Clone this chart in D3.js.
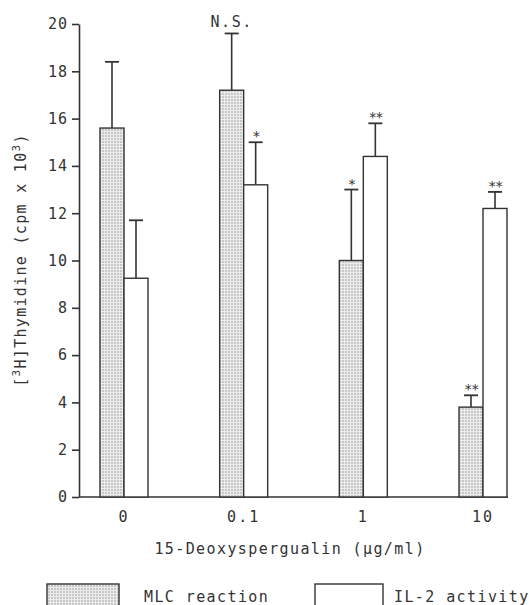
<!DOCTYPE html>
<html>
<head>
<meta charset="utf-8">
<script src="https://cdn.jsdelivr.net/npm/d3@7"></script>
<style>
  body { margin: 0; background: #fff; }
  svg { display: block; }
  text { fill: #333; }
</style>
</head>
<body>
<svg id="chart"></svg>
<script>
// doses of 15-Deoxyspergualin (ug/ml)
const doses = ['0', '0.1', '1', '10']
const mlcValues = [15.6, 17.2, 10.0, 3.8]
const mlcErrTop = [18.4, 19.6, 13.0, 4.3]
const il2Values = [9.25, 13.2, 14.4, 12.2]
const il2ErrTop = [11.7, 15.0, 15.8, 12.9]
const mlcMarks = ['', 'N.S.', '*', '**']
const il2Marks = ['', '*', '**', '**']
const yTicks = [0, 2, 4, 6, 8, 10, 12, 14, 16, 18, 20]

const W = 529, H = 605
const mono = '"DejaVu Sans Mono", monospace'
const ink = '#333'

const svg = d3.select('#chart').attr('width', W).attr('height', H)

// dotted fill for the MLC bars
const defs = svg.append('defs')
const pat = defs.append('pattern')
    .attr('id', 'dots')
    .attr('width', 3).attr('height', 3)
    .attr('patternUnits', 'userSpaceOnUse')
pat.append('rect').attr('width', 3).attr('height', 3).attr('fill', '#ececec')
pat.append('circle').attr('cx', 1).attr('cy', 1).attr('r', 0.7).attr('fill', '#888')

const y = d3.scaleLinear().domain([0, 20]).range([497, 24])
const x = d3.scalePoint().domain(doses).range([124, 483])
const bw = 24

// y axis
const yAxis = svg.append('g')
    .attr('transform', 'translate(79,0)')
    .call(d3.axisLeft(y).tickValues(yTicks).tickSize(7).tickPadding(4).tickSizeOuter(0))
yAxis.select('.domain').attr('stroke', ink).attr('stroke-width', 1.6)
yAxis.selectAll('.tick line').attr('stroke', ink).attr('stroke-width', 1.6)
yAxis.selectAll('.tick text')
    .attr('font-family', mono).attr('font-size', 15).attr('letter-spacing', 1)
    .style('fill', ink)

// x axis (line runs past the last group)
svg.append('line')
    .attr('x1', 79).attr('x2', 508)
    .attr('y1', y(0)).attr('y2', y(0))
    .attr('stroke', ink).attr('stroke-width', 1.6)

svg.append('g').selectAll('text')
    .data(doses)
    .join('text')
        .attr('x', d => x(d))
        .attr('y', 522)
        .attr('text-anchor', 'middle')
        .attr('font-family', mono).attr('font-size', 15).attr('letter-spacing', 2)
        .text(d => d)

// error bars first, then bars on top
function errBar(g, xc, top, bottom) {
    g.append('line').attr('x1', xc).attr('x2', xc).attr('y1', y(top)).attr('y2', y(bottom))
        .attr('stroke', ink).attr('stroke-width', 1.6)
    g.append('line').attr('x1', xc - 7).attr('x2', xc + 7).attr('y1', y(top)).attr('y2', y(top))
        .attr('stroke', ink).attr('stroke-width', 1.8)
}

const bars = svg.append('g')
doses.forEach((d, i) => {
    const cx = x(d)
    errBar(bars, cx - bw / 2, mlcErrTop[i], mlcValues[i])
    errBar(bars, cx + bw / 2, il2ErrTop[i], il2Values[i])
})

bars.selectAll('rect.mlc')
    .data(doses)
    .join('rect')
        .attr('class', 'mlc')
        .attr('x', d => x(d) - bw)
        .attr('y', (d, i) => y(mlcValues[i]))
        .attr('width', bw)
        .attr('height', (d, i) => y(0) - y(mlcValues[i]))
        .attr('fill', 'url(#dots)')
        .attr('stroke', ink).attr('stroke-width', 1.4)

bars.selectAll('rect.il2')
    .data(doses)
    .join('rect')
        .attr('class', 'il2')
        .attr('x', d => x(d))
        .attr('y', (d, i) => y(il2Values[i]))
        .attr('width', bw)
        .attr('height', (d, i) => y(0) - y(il2Values[i]))
        .attr('fill', '#fff')
        .attr('stroke', ink).attr('stroke-width', 1.4)

// significance marks
const marks = svg.append('g')
    .attr('font-family', mono).attr('text-anchor', 'middle')
function mark(xc, top, label) {
    if (!label) return
    const ns = label === 'N.S.'
    marks.append('text')
        .attr('x', xc)
        .attr('y', ns ? y(top) - 6 : y(top) - 1)
        .attr('font-size', ns ? 15 : 14)
        .attr('letter-spacing', ns ? 1.5 : -1.5)
        .text(label)
}
doses.forEach((d, i) => {
    mark(x(d) - bw / 2, mlcErrTop[i], mlcMarks[i])
    mark(x(d) + bw / 2, il2ErrTop[i], il2Marks[i])
})

// axis titles
svg.append('text')
    .attr('x', 290).attr('y', 554)
    .attr('text-anchor', 'middle')
    .attr('font-family', mono).attr('font-size', 15).attr('letter-spacing', 1.4)
    .text('15-Deoxyspergualin (\u03bcg/ml)')

const yt = svg.append('text')
    .attr('transform', 'translate(26,260) rotate(-90)')
    .attr('text-anchor', 'middle')
    .attr('font-family', mono).attr('font-size', 15).attr('letter-spacing', 1.3)
yt.append('tspan').text('[')
yt.append('tspan').attr('font-size', 11).attr('dy', -6).text('3')
yt.append('tspan').attr('dy', 6).text('H]Thymidine (cpm x 10')
yt.append('tspan').attr('font-size', 11).attr('dy', -6).text('3')
yt.append('tspan').attr('dy', 6).text(')')

// legend
const legend = svg.append('g')
    .attr('font-family', mono).attr('font-size', 15).attr('letter-spacing', 1.4)
legend.append('rect').attr('x', 47).attr('y', 584).attr('width', 72).attr('height', 30)
    .attr('fill', 'url(#dots)').attr('stroke', ink).attr('stroke-width', 1.4)
legend.append('text').attr('x', 144).attr('y', 602).text('MLC reaction')
legend.append('rect').attr('x', 315).attr('y', 584).attr('width', 68).attr('height', 30)
    .attr('fill', '#fff').attr('stroke', ink).attr('stroke-width', 1.4)
legend.append('text').attr('x', 394).attr('y', 602).text('IL-2 activity')
</script>
</body>
</html>
